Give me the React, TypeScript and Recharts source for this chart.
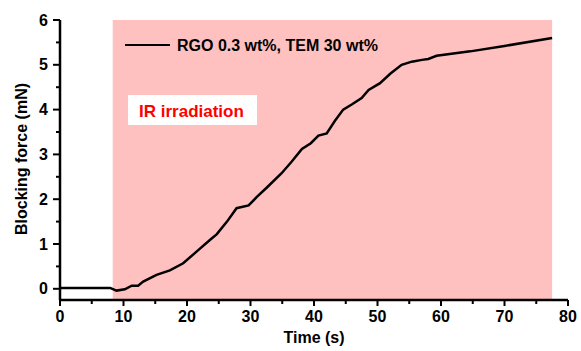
import {
  LineChart,
  Line,
  XAxis,
  YAxis,
  ReferenceArea,
} from 'recharts'

// #region data
const time = [
  0, 4, 7.9, 8.9, 10.2, 11.3, 12.3, 13.1, 15.2, 17.3, 19.4, 21.5, 23.6, 24.7,
  26.3, 27.8, 29.7, 31, 32.5, 34.9, 36.5, 38.1, 39.5, 40.7, 42, 43.3, 44.6, 46,
  47.5, 48.6, 50.4, 52, 53.8, 55.4, 57, 58, 59.3, 64.6, 70, 77.5,
]
const force = [
  0.02, 0.02, 0.02, -0.04, -0.01, 0.07, 0.07, 0.16, 0.31, 0.41, 0.57, 0.83,
  1.09, 1.22, 1.5, 1.8, 1.86, 2.05, 2.25, 2.58, 2.84, 3.12, 3.25, 3.42, 3.47,
  3.75, 4.0, 4.12, 4.26, 4.44, 4.59, 4.8, 5.0, 5.07, 5.11, 5.13, 5.2, 5.3,
  5.42, 5.6,
]
const xTicks = [0, 5, 10, 15, 20, 25, 30, 35, 40, 45, 50, 55, 60, 65, 70, 75, 80]
const yTicks = [0, 0.5, 1, 1.5, 2, 2.5, 3, 3.5, 4, 4.5, 5, 5.5, 6]
const irStart = 8.3
const irEnd = 77.5
const seriesName = 'RGO 0.3 wt%, TEM 30 wt%'
// #endregion

const data = time.map((t, i) => ({ time: t, force: force[i] }))

const FONT = '"Liberation Sans", Arial, sans-serif'

const XTick = (props: any) => {
  const { x, y, payload } = props
  const v = payload.value
  const major = v % 10 === 0
  const axisY = y - 11
  return (
    <g>
      <line x1={x} x2={x} y1={axisY} y2={axisY + (major ? 6 : 4)} stroke="#000" strokeWidth={2} />
      {major && (
        <text x={x} y={y} dy="0.71em" textAnchor="middle" fontFamily={FONT} fontWeight="bold" fontSize={16} fill="#000">
          {v}
        </text>
      )}
    </g>
  )
}

const YTick = (props: any) => {
  const { x, y, payload } = props
  const v = payload.value
  const major = Number.isInteger(v)
  const axisX = x + 12
  return (
    <g>
      <line x1={axisX - (major ? 7 : 4)} x2={axisX} y1={y} y2={y} stroke="#000" strokeWidth={2} />
      {major && (
        <text x={x} y={y} dy="0.355em" textAnchor="end" fontFamily={FONT} fontWeight="bold" fontSize={16} fill="#000">
          {v}
        </text>
      )}
    </g>
  )
}

// legend, annotation and axis titles drawn over the plot
const Overlay = () => (
  <svg
    width={581}
    height={351}
    style={{ position: 'absolute', left: 0, top: 0, pointerEvents: 'none' }}
  >
    <g fontFamily={FONT} fontWeight="bold">
      <line x1={125} x2={170} y1={45} y2={45} stroke="#000" strokeWidth={2} />
      <text x={177} y={51} fontSize={16} fill="#000">{seriesName}</text>
      <rect x={128} y={95} width={129} height={30} fill="#fff" />
      <text x={139} y={117} fontSize={17} fill="#ff0000">IR irradiation</text>
      <text x={314} y={343} fontSize={16} textAnchor="middle" fill="#000">Time (s)</text>
      <text x={27} y={159} fontSize={16} textAnchor="middle" fill="#000" transform="rotate(-90 27 159)">
        Blocking force (mN)
      </text>
    </g>
  </svg>
)

export default function App() {
  return (
    <div style={{ position: 'absolute', left: 0, top: 0, width: 581, height: 351, background: '#fff' }}>
      <LineChart
        width={581}
        height={351}
        data={data}
        margin={{ top: 20, right: 13, left: 0, bottom: 0 }}
      >
        <XAxis
          dataKey="time"
          type="number"
          domain={[0, 80]}
          ticks={xTicks}
          interval={0}
          height={51}
          tickSize={6}
          tickMargin={5}
          tickLine={false}
          axisLine={{ stroke: '#000', strokeWidth: 2.5 }}
          tick={<XTick />}
        />
        <YAxis
          type="number"
          domain={[-0.25, 6]}
          ticks={yTicks}
          interval={0}
          width={60}
          tickSize={7}
          tickMargin={5}
          tickLine={false}
          axisLine={{ stroke: '#000', strokeWidth: 2.5 }}
          tick={<YTick />}
        />
        <ReferenceArea x1={irStart} x2={irEnd} fill="#ffc0c0" fillOpacity={1} stroke="none" />
        <Line
          dataKey="force"
          type="linear"
          stroke="#000"
          strokeWidth={2.5}
          dot={false}
          isAnimationActive={false}
        />
      </LineChart>
      <Overlay />
    </div>
  )
}
